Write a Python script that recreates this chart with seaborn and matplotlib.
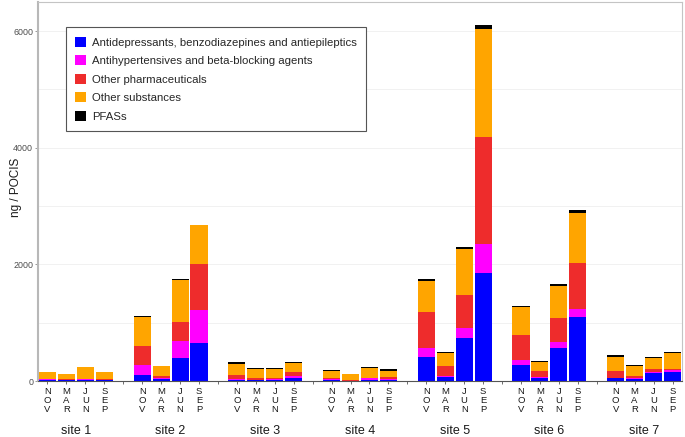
import numpy as np
import pandas as pd
import matplotlib
matplotlib.use("Agg")
import matplotlib.pyplot as plt
from matplotlib.patches import Patch
import seaborn as sns

sns.set_theme(style="white")
plt.rcParams["font.family"] = ["Liberation Sans", "DejaVu Sans"]

# chart data (ng / POCIS)
sites = ["site 1", "site 2", "site 3", "site 4", "site 5", "site 6", "site 7"]
months = ["NOV", "MAR", "JUN", "SEP"]
categories = ["Antidepressants, benzodiazepines and antiepileptics",
              "Antihypertensives and beta-blocking agents",
              "Other pharmaceuticals",
              "Other substances",
              "PFASs"]
colors = ["#0000FF", "#FF00FF", "#EE2C2C", "#FFA500", "#000000"]

# one value per site x month (site-major order)
antidep = [20, 15, 25, 18,   110, 30, 390, 645,   15, 12, 12, 45,   20, 5, 15, 25,
           405, 65, 745, 1855,   270, 45, 570, 1097,   45, 28, 131, 154]
antihyp = [10, 7, 7, 7,   170, 15, 300, 570,   15, 8, 28, 35,   8, 3, 30, 15,
           160, 30, 165, 495,   85, 20, 105, 137,   10, 17, 24, 40]
other_pharma = [10, 8, 8, 13,   315, 35, 315, 790,   70, 25, 5, 75,   32, 4, 3, 35,
                625, 155, 565, 1833,   430, 105, 400, 784,   110, 40, 56, 6]
other_subst = [120, 95, 202, 120,   510, 170, 725, 665,   190, 170, 170, 155,   115, 103, 177, 100,
               530, 230, 790, 1857,   485, 155, 560, 857,   252, 172, 178, 274]
pfas = [2, 1, 2, 2,   15, 5, 25, 10,   30, 15, 17, 15,   15, 2, 10, 25,
        30, 10, 35, 58,   20, 20, 30, 57,   23, 23, 28, 29]

series = [antidep, antihyp, other_pharma, other_subst, pfas]

rows = []
for i, s in enumerate(sites):
    for j, m in enumerate(months):
        k = i * len(months) + j
        rows.append({"site": s, "month": m, "slot": i * (len(months) + 1) + j,
                     **{c: v[k] for c, v in zip(categories, series)}})
df = pd.DataFrame(rows)

# cumulative heights for stacking
cum = df[categories].cumsum(axis=1)
for c in categories:
    df["cum_" + c] = cum[c]

fig, ax = plt.subplots(figsize=(6.85, 4.37), dpi=100)
fig.subplots_adjust(left=0.0555, right=0.9956, top=0.9954, bottom=0.128)

# draw tallest stack first, then each lower layer over it
for c, col in reversed(list(zip(categories, colors))):
    sns.barplot(data=df, x="slot", y="cum_" + c, native_scale=True, color=col,
                saturation=1, width=0.9, errorbar=None, linewidth=0, ax=ax)

n_slots = len(sites) * (len(months) + 1) - 1
ax.set_xlim(-0.5, n_slots - 0.5)
ax.set_ylim(0, 6500)

# y axis
ax.set_yticks([0, 2000, 4000, 6000])
ax.set_yticks([1000, 3000, 5000], minor=True)
ax.grid(True, which="both", axis="y", color="#efefef", linewidth=0.6)
ax.grid(False, axis="x")
ax.set_axisbelow(True)
ax.tick_params(axis="y", which="major", length=2.5, width=0.6, color="#888888",
               labelsize=6.4, labelcolor="#4d4d4d", pad=1, left=True)
ax.tick_params(axis="y", which="minor", length=0)
ax.set_ylabel("ng / POCIS", fontsize=8.5, color="#1a1a1a")
ax.yaxis.set_label_coords(-0.025, 0.51)

# x axis: month letters stacked under each bar
tick_pos = list(range(n_slots))
tick_lab = [""] * n_slots
for _, r in df.iterrows():
    tick_lab[r["slot"]] = "\n".join(r["month"])
ax.set_xticks(tick_pos)
ax.set_xticklabels(tick_lab)
ax.tick_params(axis="x", length=2, width=0.6, color="#555555", labelsize=6.8,
               labelcolor="#1a1a1a", pad=2.5, bottom=True)
for t in ax.get_xticklabels():
    t.set_linespacing(0.98)
ax.set_xlabel("")

# site labels under each group
for s, g in df.groupby("site"):
    ax.text(g["slot"].mean(), -0.132, s, transform=ax.get_xaxis_transform(),
            ha="center", va="center", fontsize=9, color="#1a1a1a")

for side in ["top", "right"]:
    ax.spines[side].set_color("#c4c4c4")
    ax.spines[side].set_linewidth(0.8)
ax.spines["left"].set_color("#b8b8b8")
ax.spines["left"].set_linewidth(1.5)
ax.spines["bottom"].set_color("#555555")
ax.spines["bottom"].set_linewidth(0.8)

handles = [Patch(facecolor=col, edgecolor="none") for col in colors]
leg = ax.legend(handles, categories, loc="upper left", bbox_to_anchor=(0.043, 0.934),
                borderaxespad=0, fontsize=8.2, handlelength=0.95, handleheight=0.95,
                handletextpad=0.5, labelspacing=0.68, borderpad=0.85,
                frameon=True, fancybox=False, framealpha=1)
leg.get_frame().set_edgecolor("#555555")
leg.get_frame().set_linewidth(0.8)

plt.savefig("out.png", dpi=100)
plt.close()
